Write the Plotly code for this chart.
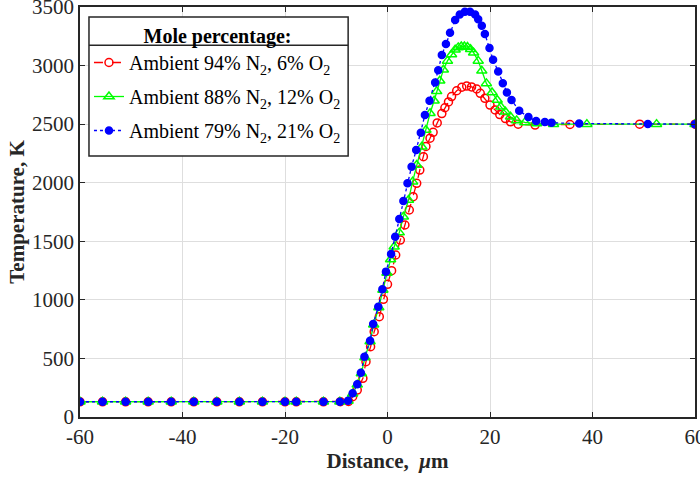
import plotly.graph_objects as go

# Distance (um) and temperature (K)
flat_x = [-60, -55.6, -51.1, -46.7, -42.2, -37.8, -33.3, -28.9, -24.4, -20, -17.8, -12.5]
flat_t = [130] * len(flat_x)

x_o2_6 = flat_x + [-9.2, -7.6, -6.8, -5.9, -4.8, -4.2, -3.3, -2.6, -1.6, -0.8, 0.0, 0.8, 1.6,
                   2.5, 3.4, 4.25, 5.0, 5.7, 6.3, 7.0, 7.5, 8.3, 8.9, 9.7, 10.6, 11.2, 11.9,
                   12.5, 13.5, 14.5, 15.45, 16.4, 17.4, 18.1, 19.0, 20.0, 21.0, 21.9, 23.0,
                   24.0, 25.5, 28.8, 35.6, 49.2, 60]
t_o2_6 = flat_t + [131, 133, 173, 230, 330, 472, 600, 728, 856, 1005, 1133, 1249, 1383,
                   1510, 1639, 1767, 1881, 1995, 2108, 2222, 2310, 2380, 2430, 2510, 2590,
                   2640, 2690, 2735, 2785, 2815, 2825, 2818, 2800, 2763, 2720, 2663, 2621,
                   2582, 2548, 2520, 2500, 2492, 2497, 2500, 2500]

x_o2_12 = flat_x + [-9.3, -7.7, -6.8, -5.9, -5.1, -4.4, -3.4, -2.7, -1.7, -0.9, -0.1, 0.6, 1.3,
                    2.3, 3.1, 4.1, 4.9, 5.7, 6.7, 7.5, 8.3, 9.1, 9.6, 10.2, 10.9, 11.7, 12.5,
                    13.2, 13.8, 14.4, 15.0, 15.6, 16.2, 16.8, 17.7, 18.4, 19.3, 20.4, 21.4,
                    22.1, 23.0, 24.0, 25.2, 26.8, 29.1, 32.4, 38.9, 52.5, 60]
t_o2_12 = flat_t + [131, 137, 198, 275, 372, 508, 645, 788, 935, 1085, 1230, 1345, 1454,
                    1574, 1710, 1852, 2009, 2151, 2307, 2450, 2593, 2700, 2780, 2870, 2965,
                    3040, 3095, 3135, 3155, 3163, 3163, 3158, 3140, 3110, 3040, 2955, 2848,
                    2770, 2706, 2649, 2606, 2563, 2532, 2515, 2505, 2500, 2500, 2500, 2500]

x_o2_21 = flat_x + [-9.3, -7.7, -6.8, -5.9, -5.2, -4.5, -3.4, -2.8, -1.8, -1.0, -0.3, 0.7, 1.5,
                    2.3, 3.1, 3.9, 4.7, 5.6, 6.5, 7.3, 8.2, 9.3, 9.9, 10.6, 11.4, 12.2, 13.2,
                    14.1, 15.1, 16.1, 17.1, 17.7, 18.4, 19.0, 19.9, 20.6, 21.6, 22.5, 23.3,
                    24.2, 25.7, 27.5, 29.0, 30.7, 32.0, 37.4, 50.8, 60]
t_o2_21 = flat_t + [131, 139, 202, 279, 378, 515, 651, 794, 942, 1090, 1241, 1391, 1539,
                    1690, 1844, 1995, 2137, 2279, 2427, 2578, 2700, 2855, 2960, 3090, 3185,
                    3280, 3390, 3435, 3460, 3460, 3435, 3395, 3340, 3270, 3150, 3050, 2950,
                    2850, 2770, 2706, 2615, 2560, 2527, 2518, 2512, 2505, 2501, 2500]

x_ticks = [-60, -40, -20, 0, 20, 40, 60]
x_tick_labels = ["-60", "-40", "-20", "0", "20", "40", "60"]
y_ticks = [0, 500, 1000, 1500, 2000, 2500, 3000, 3500]

series = [
    ("Ambient 94% N<sub>2</sub>, 6% O<sub>2</sub>", x_o2_6, t_o2_6, "red", "dash", "circle-open", 8),
    ("Ambient 88% N<sub>2</sub>, 12% O<sub>2</sub>", x_o2_12, t_o2_12, "#00ff00", "solid", "triangle-up-open", 9),
    ("Ambient 79% N<sub>2</sub>, 21% O<sub>2</sub>", x_o2_21, t_o2_21, "blue", "dot", "circle", 7),
]

FONT = "Liberation Serif, Times New Roman, serif"
INK = "#262626"

fig = go.Figure()
for i, (name, xs, ts, color, dash, symbol, size) in enumerate(series):
    fig.add_trace(go.Scatter(
        x=xs, y=ts, name=name, mode="lines+markers", legendgroup=f"g{i}",
        line=dict(color=color, dash=dash, width=1.3),
        marker=dict(symbol=symbol, size=size, color=color, line=dict(color=color, width=1.5)),
    ))

axis_common = dict(
    showline=True, linecolor=INK, linewidth=1.5, mirror="ticks",
    ticks="inside", ticklen=5, tickcolor=INK, tickwidth=1,
    showgrid=True, gridcolor="#dedede", gridwidth=1, zeroline=False,
    tickfont=dict(family=FONT, size=21, color=INK), automargin=False,
    ticklabeloverflow="allow",
)

fig.update_xaxes(range=[-60, 60], tickvals=x_ticks, ticktext=x_tick_labels,
                 title=dict(text="<b>Distance,  <i>μ</i>m</b>", font=dict(family=FONT, size=21, color=INK), standoff=4),
                 **axis_common)
fig.update_yaxes(range=[0, 3500], tickvals=y_ticks,
                 title=dict(text="<b>Temperature, K</b>", font=dict(family=FONT, size=21, color=INK), standoff=2),
                 **axis_common)

# legend box drawn as shapes so the MATLAB-style title separator shows
box = dict(x0=0.0146, x1=0.436, y0=0.6366, y1=0.9756)
fig.add_shape(type="rect", xref="paper", yref="paper", layer="above",
              fillcolor="white", line=dict(color=INK, width=1.5), **box)
fig.add_shape(type="line", xref="paper", yref="paper", layer="above",
              x0=box["x0"], x1=box["x1"], y0=0.907, y1=0.907, line=dict(color=INK, width=1.5))

fig.update_layout(
    width=700, height=477,
    margin=dict(l=80, r=5, t=7, b=60),
    plot_bgcolor="white", paper_bgcolor="white",
    font=dict(family=FONT, color="black"),
    legend=dict(
        x=0.0146, y=0.9756, xanchor="left", yanchor="top",
        bgcolor="rgba(0,0,0,0)", borderwidth=0,
        font=dict(family=FONT, size=20, color="black"),
        title=dict(text="<b>Mole percentage:</b>", side="top center",
                   font=dict(family=FONT, size=20, color="black")),
        tracegroupgap=5, itemwidth=30,
    ),
)

fig.write_html("out.html", config={"displayModeBar": False},
               post_script="document.body.style.margin='0px';")
